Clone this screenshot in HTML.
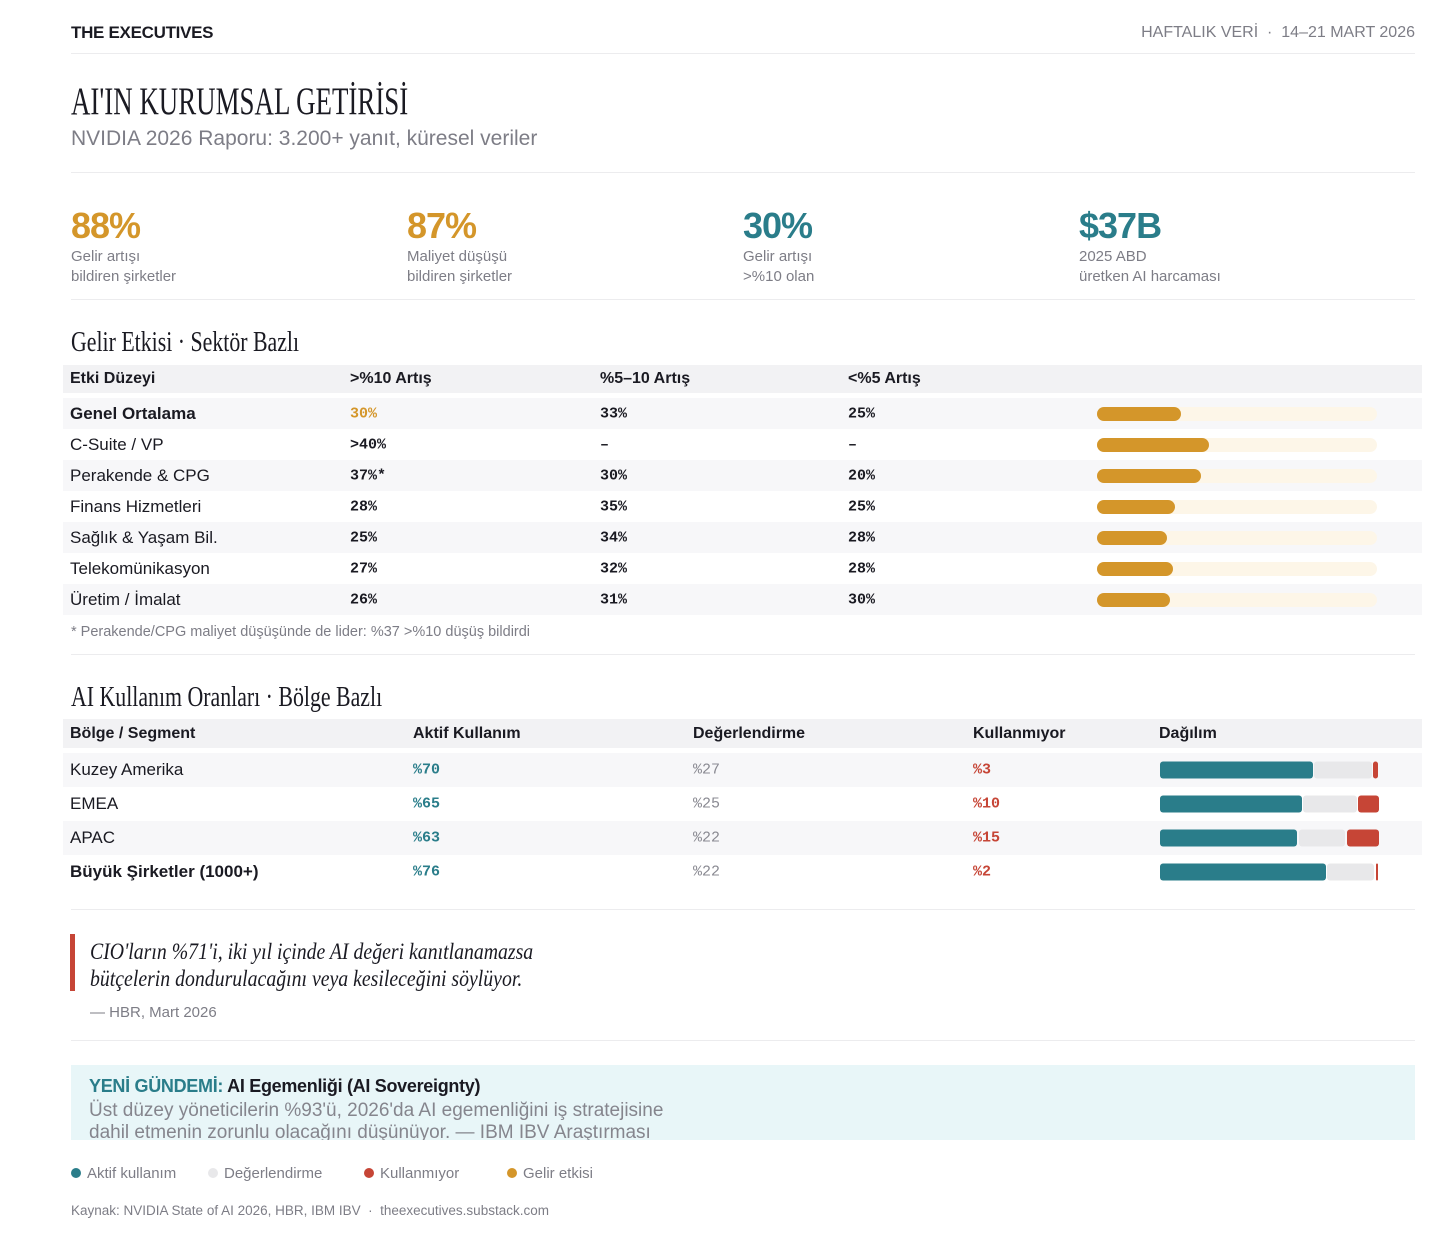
<!DOCTYPE html>
<html><head><meta charset="utf-8">
<style>
*{margin:0;padding:0;box-sizing:border-box}
body{width:1456px;height:1251px;background:#fff;position:relative;font-family:"Liberation Sans",sans-serif;color:#1a1a22;overflow:hidden}
.a{position:absolute;white-space:nowrap}
.line{position:absolute;left:71px;width:1344px;height:1px;background:#ececee}
.serif{font-family:"Liberation Serif",serif;transform-origin:left center;transform:scaleX(.78)}
.gray{color:#7d7d86}
.mono{font-family:"Liberation Mono",monospace;font-weight:bold;font-size:15px}
.kn{font-size:36px;font-weight:bold;letter-spacing:-1px}
.kl{font-size:15px;color:#7d7d86;line-height:20px}
.hdr{position:absolute;left:63px;width:1359px;background:#f2f2f4}
.hdr span{position:absolute;font-weight:bold;font-size:16px;top:50%;transform:translateY(-50%)}
.row{position:absolute;left:63px;width:1359px}
.row span{position:absolute;top:50%;transform:translateY(-50%);white-space:nowrap}
.dot{display:inline-block;width:10px;height:10px;border-radius:50%;margin-right:6px;vertical-align:0px}
</style></head><body>
<div class="a" style="left:71px;top:23px;font-size:17px;font-weight:bold;letter-spacing:-0.3px">THE EXECUTIVES</div>
<div class="a gray" style="right:41px;top:24px;font-size:16px">HAFTALIK VERİ &nbsp;·&nbsp; 14–21 MART 2026</div>
<div class="line" style="top:53px"></div>
<div class="a serif" style="left:71px;top:81px;font-size:39px;line-height:42px;transform:scaleX(.69)">AI'IN KURUMSAL GETİRİSİ</div>
<div class="a gray" style="left:71px;top:127px;font-size:21px">NVIDIA 2026 Raporu: 3.200+ yanıt, küresel veriler</div>
<div class="line" style="top:172px"></div>

<div class="a" style="left:71px;top:205px"><div class="kn" style="color:#d4962a">88%</div><div class="kl">Gelir artışı<br>bildiren şirketler</div></div>
<div class="a" style="left:407px;top:205px"><div class="kn" style="color:#d4962a">87%</div><div class="kl">Maliyet düşüşü<br>bildiren şirketler</div></div>
<div class="a" style="left:743px;top:205px"><div class="kn" style="color:#2a7d8a">30%</div><div class="kl">Gelir artışı<br>&gt;%10 olan</div></div>
<div class="a" style="left:1079px;top:205px"><div class="kn" style="color:#2a7d8a">$37B</div><div class="kl">2025 ABD<br>üretken AI harcaması</div></div>
<div class="line" style="top:299px"></div>

<div class="a serif" style="left:71px;top:327px;font-size:28px;line-height:32px">Gelir Etkisi · Sektör Bazlı</div>
<div class="hdr" style="top:365px;height:28px">
<span style="left:7px">Etki Düzeyi</span><span style="left:287px">&gt;%10 Artış</span><span style="left:537px">%5–10 Artış</span><span style="left:785px">&lt;%5 Artış</span></div>
<div id="t1"></div>
<div class="a gray" style="left:71px;top:624px;font-size:14.5px">* Perakende/CPG maliyet düşüşünde de lider: %37 &gt;%10 düşüş bildirdi</div>
<div class="line" style="top:654px"></div>

<div class="a serif" style="left:71px;top:682px;font-size:28px;line-height:32px">AI Kullanım Oranları · Bölge Bazlı</div>
<div class="hdr" style="top:719px;height:29px">
<span style="left:7px">Bölge / Segment</span><span style="left:350px">Aktif Kullanım</span><span style="left:630px">Değerlendirme</span><span style="left:910px">Kullanmıyor</span><span style="left:1096px">Dağılım</span></div>
<div id="t2"></div>
<div class="line" style="top:909px"></div>

<div class="a" style="left:70px;top:934px;width:5px;height:57px;background:#c64536"></div>
<div class="a" style="left:90px;top:938px;font-family:'Liberation Serif',serif;font-style:italic;font-size:23px;line-height:27px;transform:scaleX(.86);transform-origin:left top">CIO'ların %71'i, iki yıl içinde AI değeri kanıtlanamazsa<br>bütçelerin dondurulacağını veya kesileceğini söylüyor.</div>
<div class="a gray" style="left:90px;top:1004px;font-size:15px">— HBR, Mart 2026</div>
<div class="line" style="top:1040px"></div>

<div class="a" style="left:71px;top:1065px;width:1344px;height:75px;background:#e8f6f8;overflow:hidden">
<div style="position:absolute;left:18px;top:11px;font-size:18px;font-weight:bold;letter-spacing:-0.3px"><span style="color:#2a7d8a">YENİ GÜNDEMİ:</span> AI Egemenliği (AI Sovereignty)</div>
<div style="position:absolute;left:18px;top:35px;font-size:19px;line-height:22px;color:#85858d">Üst düzey yöneticilerin %93'ü, 2026'da AI egemenliğini iş stratejisine<br>dahil etmenin zorunlu olacağını düşünüyor. — IBM IBV Araştırması</div></div>

<div class="a gray" style="left:71px;top:1165px;font-size:15px"><span class="dot" style="background:#2a7d8a"></span>Aktif kullanım</div>
<div class="a gray" style="left:208px;top:1165px;font-size:15px"><span class="dot" style="background:#e8e8ea"></span>Değerlendirme</div>
<div class="a gray" style="left:364px;top:1165px;font-size:15px"><span class="dot" style="background:#c64536"></span>Kullanmıyor</div>
<div class="a gray" style="left:507px;top:1165px;font-size:15px"><span class="dot" style="background:#d4962a"></span>Gelir etkisi</div>
<div class="a gray" style="left:71px;top:1203px;font-size:13.5px">Kaynak: NVIDIA State of AI 2026, HBR, IBM IBV &nbsp;·&nbsp; theexecutives.substack.com</div>

<script>
const sectors=["Genel Ortalama","C-Suite / VP","Perakende & CPG","Finans Hizmetleri","Sağlık & Yaşam Bil.","Telekomünikasyon","Üretim / İmalat"];
const over10Labels=["30%",">40%","37%*","28%","25%","27%","26%"];
const mid5to10Labels=["33%","–","30%","35%","34%","32%","31%"];
const under5Labels=["25%","–","20%","25%","28%","28%","30%"];
const over10Values=[30,40,37,28,25,27,26];

const regions=["Kuzey Amerika","EMEA","APAC","Büyük Şirketler (1000+)"];
const activeValues=[70,65,63,76];
const evalValues=[27,25,22,22];
const notUsingValues=[3,10,15,2];

const t1=document.getElementById('t1');
const barX=1034, barW=280;
const xScale=v=>v/100*barW;
sectors.forEach((s,i)=>{
  const r=document.createElement('div');
  r.className='row';
  
  
  r.style.top=(398+i*31)+'px';r.style.height='31px';
  if(i%2==0)r.style.background='#f7f7f9';
  const b=i==0?'font-weight:bold;':'';
  r.innerHTML=`<span style="left:7px;font-size:17px;${b}">${s}</span>`+
   `<span class="mono" style="left:287px;${i==0?'color:#d4962a':''}">${over10Labels[i]}</span>`+
   `<span class="mono" style="left:537px">${mid5to10Labels[i]}</span>`+
   `<span class="mono" style="left:785px">${under5Labels[i]}</span>`+
   `<span style="left:${barX}px;width:${barW}px;height:14px;border-radius:7px;background:#fdf6e8"></span>`;
  const bar=document.createElement('span');
  
  
  bar.style.cssText=`left:${barX}px;width:${xScale(over10Values[i])}px;height:14px;border-radius:7px;background:#d4962a`;
  r.appendChild(bar);
  t1.appendChild(r);
});

const t2=document.getElementById('t2');
const dX=1097, dW=220;
const dScale=v=>v/100*dW;
regions.forEach((s,i)=>{
  const r=document.createElement('div');
  r.className='row';
  
  
  r.style.top=(753+i*34)+'px';r.style.height='34px';
  if(i%2==0)r.style.background='#f7f7f9';
  const b=i==3?'font-weight:bold;':'';
  r.innerHTML=`<span style="left:7px;font-size:17px;${b}">${s}</span>`+
   `<span class="mono" style="left:350px;color:#2a7d8a">%${activeValues[i]}</span>`+
   `<span class="mono" style="left:630px;color:#8a8a92;font-weight:normal">%${evalValues[i]}</span>`+
   `<span class="mono" style="left:910px;color:#c64536">%${notUsingValues[i]}</span>`;
  let x=dX;
  [[activeValues[i],'#2a7d8a','dist-active'],[evalValues[i],'#e8e8ea','dist-evaluating'],[notUsingValues[i],'#c64536','dist-not-using']].forEach(([v,c,n])=>{
    const seg=document.createElement('span');
    
    
    const w=dScale(v);
    seg.style.cssText=`left:${x}px;width:${Math.max(w-1.5,2)}px;height:17px;border-radius:3px;background:${c}`;
    r.appendChild(seg);
    x+=w;
  });
  t2.appendChild(r);
});
</script>
</body></html>
